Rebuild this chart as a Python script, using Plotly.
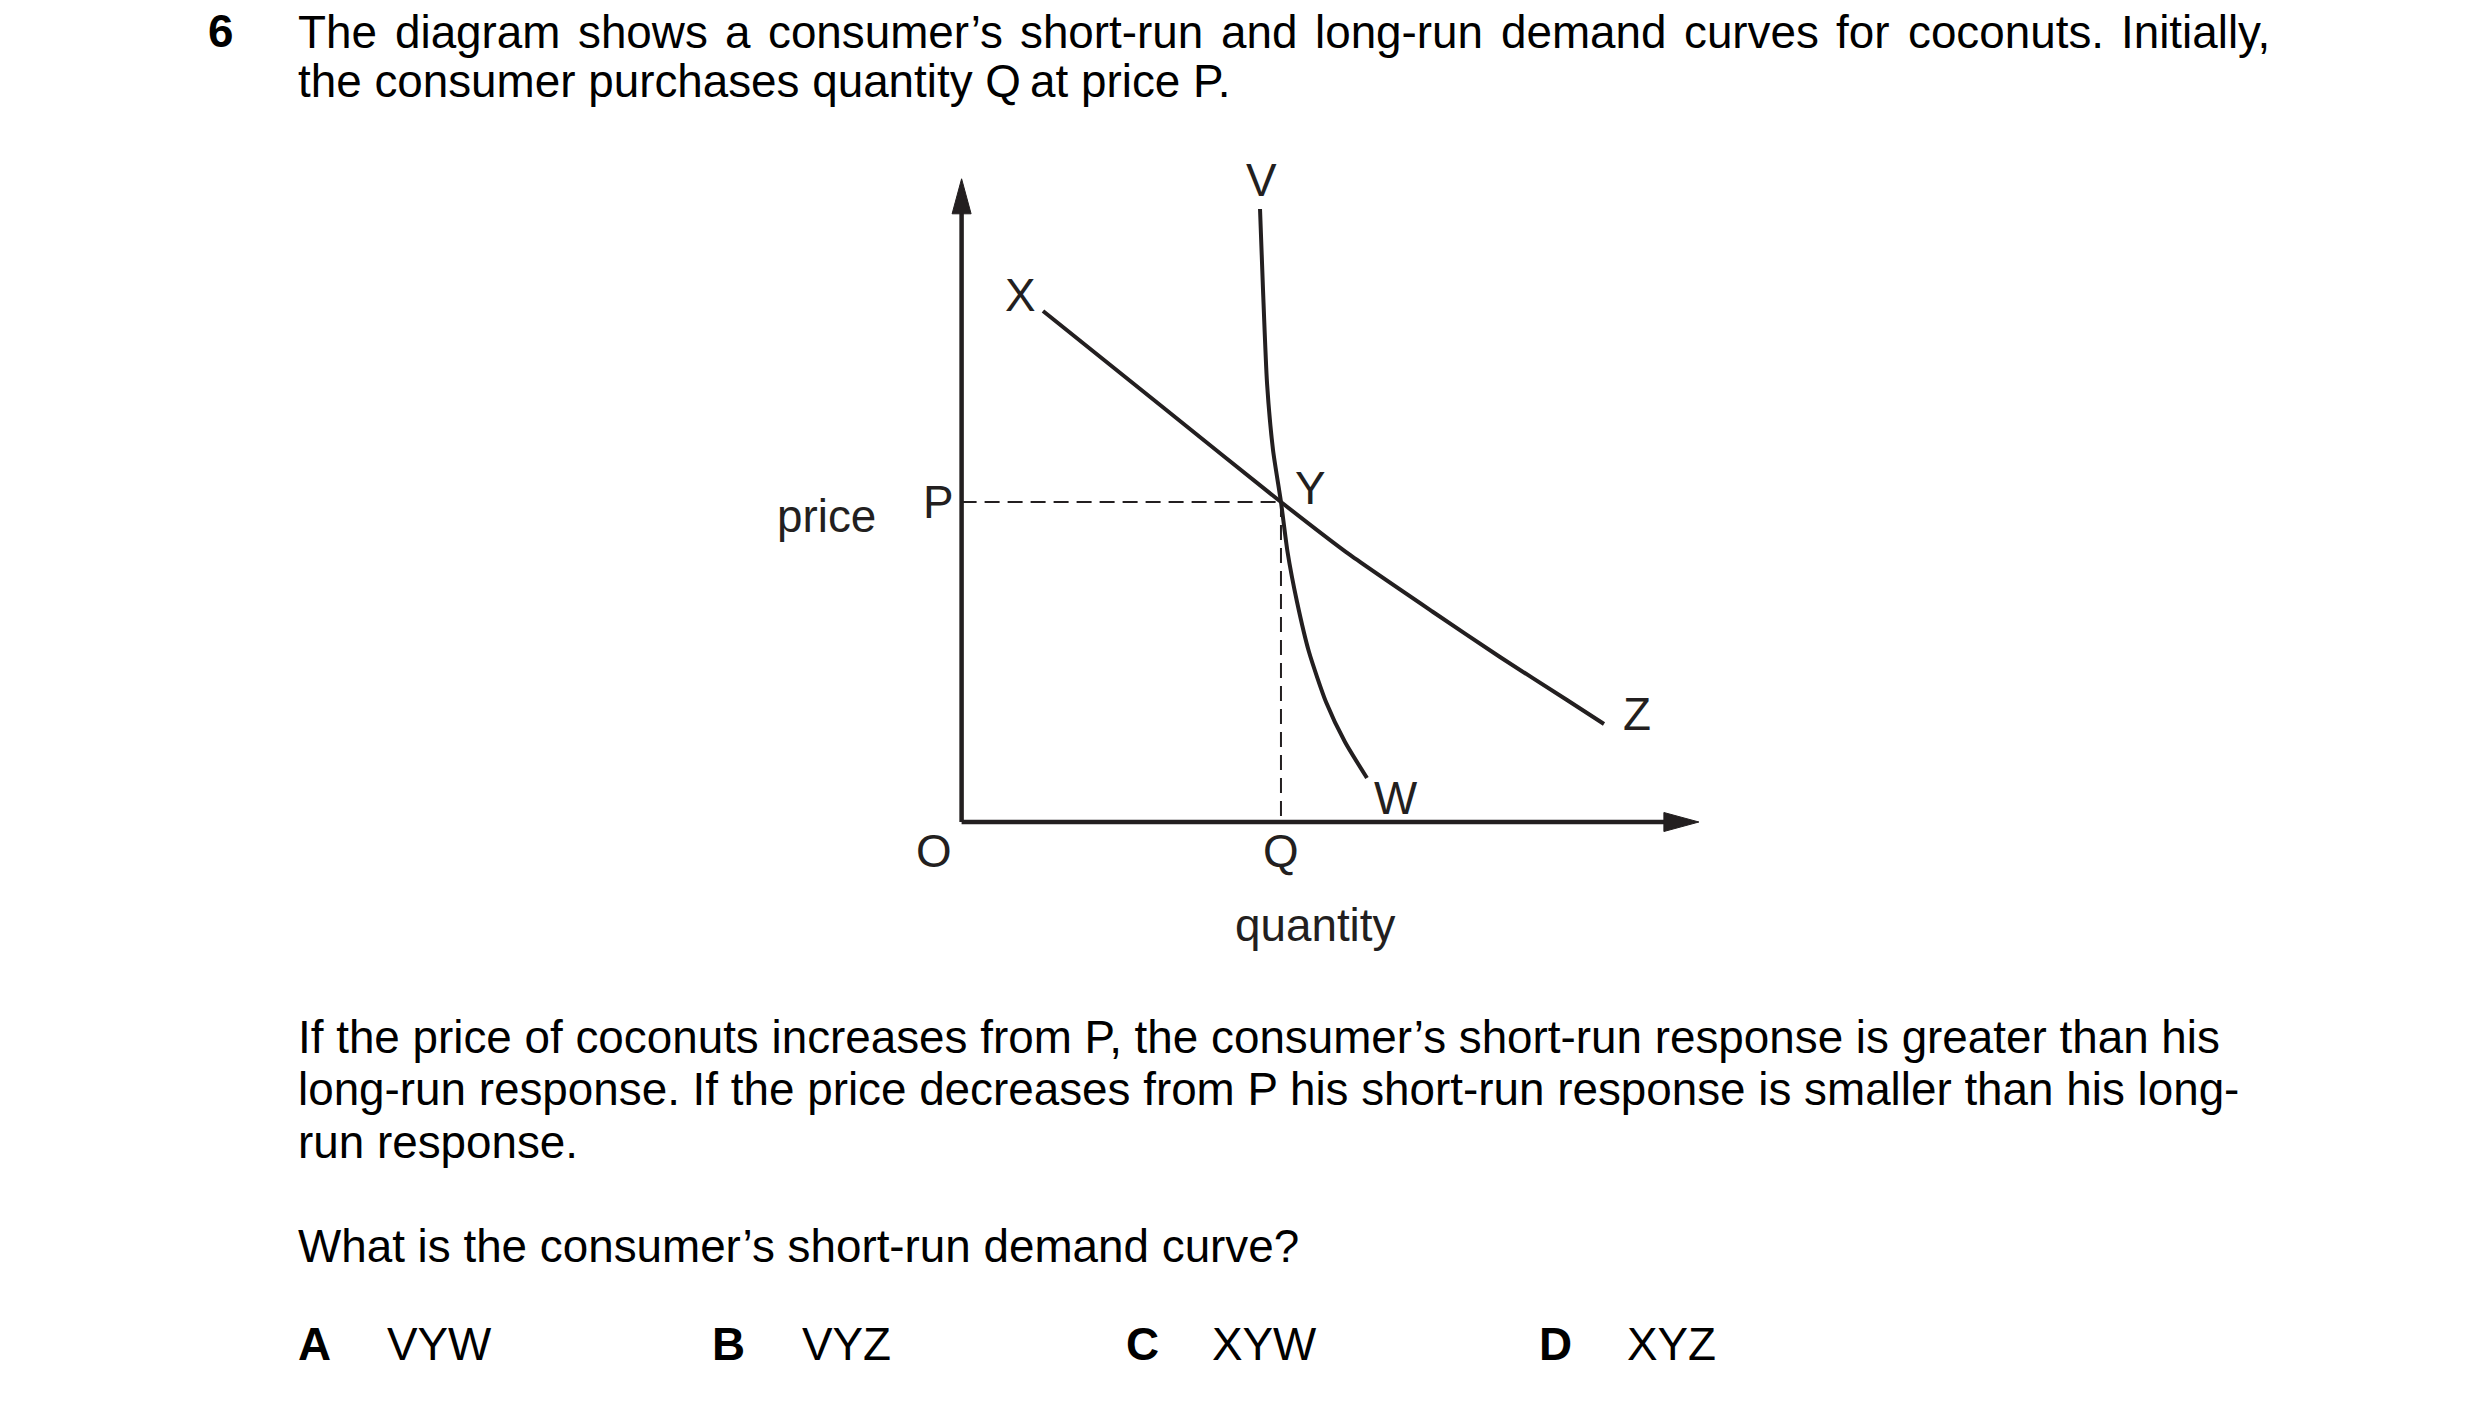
import plotly.graph_objects as go

# ---------------- data (quantity, price units) ----------------
P_VALUE = 50.0
Q_VALUE = 43.75

# long-run demand curve X - Y - Z
xyz_quantity = [11.15, 27.45, 43.75, 53.21, 64.58, 73.75, 82.93, 88.0]
xyz_price = [79.84, 64.92, 50.0, 41.72, 32.81, 25.78, 19.06, 15.31]

# short-run demand curve V - Y - W
vyw_quantity = [40.88, 41.29, 41.84, 42.66, 43.75, 44.65, 45.95, 47.59, 49.92, 52.52, 55.53]
vyw_price = [95.78, 83.13, 68.59, 58.13, 50.0, 42.19, 34.38, 26.56, 18.75, 12.5, 6.88]

Y_AXIS_TIP = 100.5
X_AXIS_TIP = 101.0

title_line1 = "The diagram shows a consumer’s short-run and long-run demand curves for coconuts. Initially,"
title_line2 = "the consumer purchases quantity Q\u2009at price P."
para_lines = [
    "If the price of coconuts increases from P, the consumer’s short-run response is greater than his",
    "long-run response. If the price decreases from P his short-run response is smaller than his long-",
    "run response.",
]
question = "What is the consumer’s short-run demand curve?"
option_letters = ["A", "B", "C", "D"]
option_texts = ["VYW", "VYZ", "XYW", "XYZ"]

# ---------------- layout constants ----------------
W, H = 2480, 1401
ORIGIN_PX = (961.6, 822.0)            # pixel position of O
KX, KY = 7.3, 6.4                     # pixels per data unit
INK = "#231f20"
FONT = "Liberation Sans, Arial, sans-serif"
FS = 45.8

x_range = [-ORIGIN_PX[0] / KX, (W - ORIGIN_PX[0]) / KX]
y_range = [-(H - ORIGIN_PX[1]) / KY, ORIGIN_PX[1] / KY]

fig = go.Figure()

axis_style = dict(color=INK, width=4.5)
dash_style = dict(color=INK, width=2, dash="15px,8px")

arrow_len_px, arrow_hw_px = 35, 9.5

# axes
fig.add_trace(go.Scatter(x=[0, 0], y=[0, Y_AXIS_TIP - arrow_len_px / KY + 0.3], mode="lines", line=axis_style))
fig.add_trace(go.Scatter(x=[0, X_AXIS_TIP - arrow_len_px / KX + 0.3], y=[0, 0], mode="lines", line=axis_style))
# arrowheads
yb = Y_AXIS_TIP - arrow_len_px / KY
fig.add_trace(go.Scatter(x=[-arrow_hw_px / KX, 0, arrow_hw_px / KX, -arrow_hw_px / KX],
                         y=[yb, Y_AXIS_TIP, yb, yb], mode="lines", fill="toself",
                         fillcolor=INK, line=dict(color=INK, width=1)))
xb = X_AXIS_TIP - arrow_len_px / KX
fig.add_trace(go.Scatter(x=[xb, X_AXIS_TIP, xb, xb],
                         y=[-arrow_hw_px / KY, 0, arrow_hw_px / KY, -arrow_hw_px / KY], mode="lines",
                         fill="toself", fillcolor=INK, line=dict(color=INK, width=1)))

# dashed guides
fig.add_trace(go.Scatter(x=[0, Q_VALUE], y=[P_VALUE, P_VALUE], mode="lines", line=dash_style))
fig.add_trace(go.Scatter(x=[Q_VALUE, Q_VALUE], y=[P_VALUE, 0], mode="lines", line=dash_style))

# curves
fig.add_trace(go.Scatter(x=xyz_quantity, y=xyz_price, mode="lines",
                         line=dict(color=INK, width=4, shape="spline", smoothing=0.6)))
fig.add_trace(go.Scatter(x=vyw_quantity, y=vyw_price, mode="lines",
                         line=dict(color=INK, width=4, shape="spline", smoothing=0.6)))

annotations = []


def lab(text, x, y, dx, dy, xanchor="center"):
    annotations.append(dict(text=text, x=x, y=y, xref="x", yref="y", xshift=dx, yshift=dy,
                            showarrow=False, xanchor=xanchor, yanchor="middle", borderpad=0,
                            font=dict(family=FONT, size=FS, color=INK)))


lab("V", vyw_quantity[0], vyw_price[0], 1, 29)
lab("W", vyw_quantity[-1], vyw_price[-1], 29, -21)
lab("X", xyz_quantity[0], xyz_price[0], -23, 16)
lab("Z", xyz_quantity[-1], xyz_price[-1], 33, 10)
lab("Y", Q_VALUE, P_VALUE, 30, 14)
lab("P", 0, P_VALUE, -23, 0)
lab("Q", Q_VALUE, 0, 0, -29)
lab("O", 0, 0, -28, -29)
lab("price", 0, P_VALUE, -135, -14)
lab("quantity", Q_VALUE, 0, 35, -103)


# ---------------- page text ----------------
def ptxt(text, px, baseline, bold=False, xanchor="left"):
    annotations.append(dict(text=("<b>%s</b>" % text) if bold else text,
                            x=px / W,
                            y=1 - (baseline - 0.3465 * FS) / H,
                            xref="paper", yref="paper", showarrow=False,
                            xanchor=xanchor, yanchor="middle", borderpad=0,
                            font=dict(family=FONT, size=FS, color="#000000")))


# Arial advance widths (per 1000 em)
AW = {" ": 278, "T": 611, "h": 556, "e": 556, "d": 556, "i": 222, "a": 556, "g": 556, "r": 333,
      "m": 833, "s": 500, "o": 556, "w": 722, "c": 500, "n": 556, "u": 556, "’": 222, "t": 278,
      "-": 333, "l": 222, "v": 500, "f": 278, ".": 278, "I": 278, "y": 500, ",": 278}


def width(s):
    return sum(AW.get(ch, 556) for ch in s) * FS / 1000.0


TEXT_LEFT = 297
ptxt("6", 207, 47, bold=True)
# justified first line
words = title_line1.split(" ")
line_w = 2273 - TEXT_LEFT
gap = (line_w - sum(width(wd) for wd in words)) / (len(words) - 1)
xpos = TEXT_LEFT
for wd in words:
    ptxt(wd, xpos, 48)
    xpos += width(wd) + gap
ptxt(title_line2, TEXT_LEFT, 97)

for i, ln in enumerate(para_lines):
    ptxt(ln, TEXT_LEFT, 1053 + 52.5 * i)
ptxt(question, TEXT_LEFT, 1262)

letter_x = [297, 711, 1125, 1538]
answer_x = [386, 801, 1211, 1626]
for lx, ax, lt, at in zip(letter_x, answer_x, option_letters, option_texts):
    ptxt(lt, lx, 1360, bold=True)
    ptxt(at, ax, 1360)

fig.update_layout(
    width=W, height=H,
    margin=dict(l=0, r=0, t=0, b=0),
    paper_bgcolor="white", plot_bgcolor="white",
    showlegend=False, hovermode=False,
    xaxis=dict(visible=False, range=x_range, domain=[0, 1], fixedrange=True),
    yaxis=dict(visible=False, range=y_range, domain=[0, 1], fixedrange=True),
    annotations=annotations,
)

# remove the default 8px page margin so the figure fills the window exactly
fig.write_html("out.html", config={"displayModeBar": False, "displaylogo": False},
               post_script="document.body.style.margin='0px';")
